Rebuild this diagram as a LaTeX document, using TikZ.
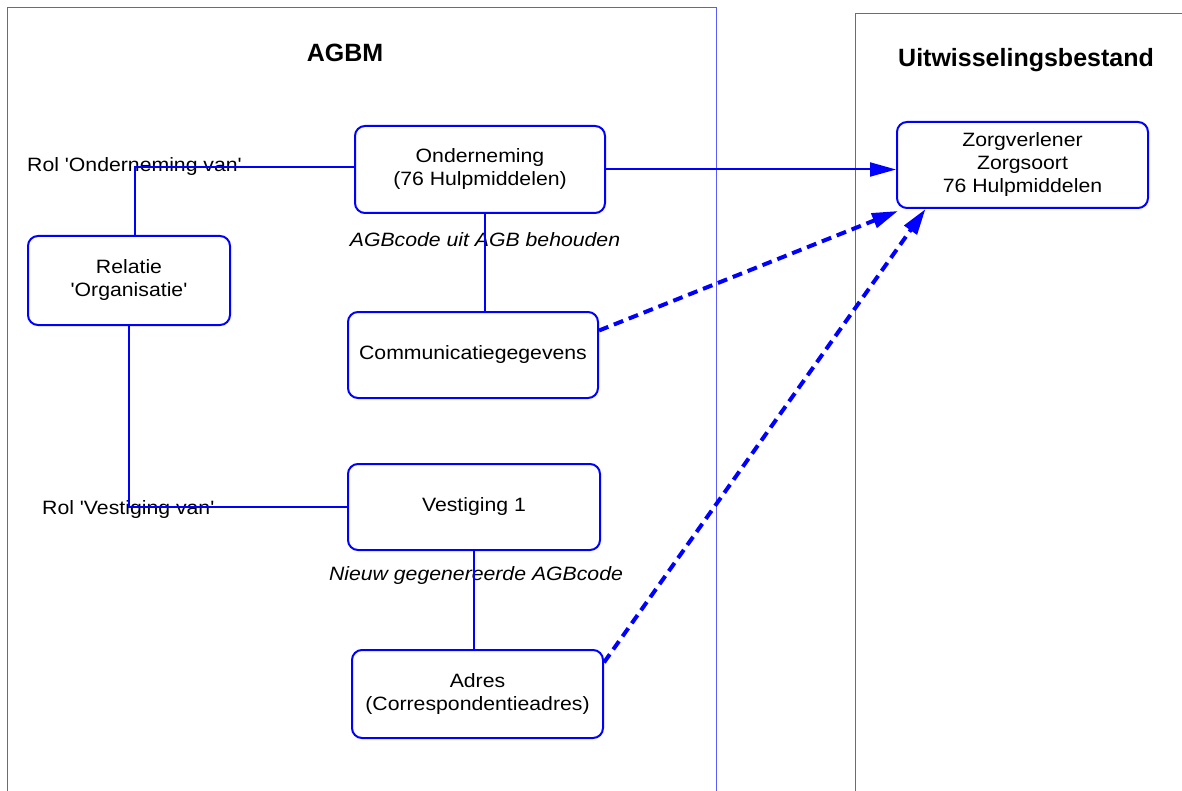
\documentclass[tikz,border=0pt]{standalone}
\usepackage{fontspec}
\setmainfont{Liberation Sans}
\newfontfamily\boxfont{Liberation Sans}[FakeStretch=1.1]
\usetikzlibrary{arrows.meta}
\definecolor{lineblue}{RGB}{0,0,255}
\definecolor{frameblue}{RGB}{90,90,255}
\tikzset{
  box/.style={draw=lineblue, line width=2pt, rounded corners=10pt, inner sep=0pt,
    align=center, font={\boxfont\fontsize{19.3}{23}\selectfont}},
  lbl/.style={inner sep=0pt, font={\boxfont\fontsize{19.3}{23}\selectfont}},
  ilbl/.style={inner sep=0pt, font={\boxfont\itshape\fontsize{19.3}{23}\selectfont}},
  title/.style={inner sep=0pt, font={\bfseries\fontsize{25}{30}\selectfont}},
  frame/.style={draw=frameblue, line width=1pt},
  link/.style={draw=lineblue, line width=2pt},
  arrowline/.style={draw=lineblue, line width=2pt, -{Triangle[length=26pt,width=14pt]}},
  dashedarrow/.style={draw=lineblue, line width=4pt, dash pattern=on 10pt off 6pt,
    -{Triangle[length=26pt,width=15pt]}}
}
\begin{document}
\begin{tikzpicture}[x=1pt,y=-1pt]
\useasboundingbox (0,0) rectangle (1182,791);
% containers
\coordinate (lf1) at (7,791);
\coordinate (lf2) at (7,8);
\coordinate (lf3) at (716,8);
\coordinate (lf4) at (716,791);
\coordinate (rf1) at (855,791);
\coordinate (rf2) at (855,14);
\coordinate (rf3) at (1182,14);
\draw[frame] (lf1) -- (lf2) -- (lf3) -- (lf4);
\draw[frame] (rf1) -- (rf2) -- (rf3);
% titles
\node[title] (agbm) at (345,53) {AGBM};
\node[title] (uitw) at (1026,60) {Uitwisselingsbestand};
% boxes
\node[box, minimum width=250pt, minimum height=87pt] (ond) at (480,169.5) {Onderneming\\(76 Hulpmiddelen)};
\node[box, minimum width=251pt, minimum height=86pt] (zorg) at (1022.5,165) {Zorgverlener\\Zorgsoort\\76 Hulpmiddelen};
\node[box, minimum width=202pt, minimum height=89pt] (rel) at (129,280.5) {Relatie\\'Organisatie'};
\node[box, minimum width=250pt, minimum height=86pt] (com) at (473,355) {Communicatiegegevens};
\node[box, minimum width=252pt, minimum height=86pt] (ves) at (474,507) {Vestiging 1};
\node[box, minimum width=251pt, minimum height=88pt] (adr) at (477.5,694) {Adres\\(Correspondentieadres)};
% labels
\node[lbl, anchor=base west] (rolond) at (27,172) {Rol 'Onderneming van'};
\node[lbl, anchor=base west] (rolves) at (42,514.5) {Rol 'Vestiging van'};
\node[ilbl, anchor=base] (agbbeh) at (485,246.5) {AGBcode uit AGB behouden};
\node[ilbl, anchor=base] (nieuw) at (476,580.5) {Nieuw gegenereerde AGBcode};
% connectors
\draw[link] ([yshift=2.5pt]ond.west) -| ([xshift=6pt]rel.north);
\draw[link] (rel.south) |- (ves.west);
\draw[link] ([xshift=5pt]ond.south) -- ([xshift=5pt]ond.south |- com.north);
\draw[link] (ves.south) -- (ves.south |- adr.north);
\draw[arrowline] (ond.east) -- (ond.east -| zorg.west);
\draw[dashedarrow] (com.11) -- ([xshift=2pt,yshift=-2pt]zorg.south west);
\draw[dashedarrow] (adr.14) -- ([xshift=-97pt]zorg.south);
\end{tikzpicture}
\end{document}
